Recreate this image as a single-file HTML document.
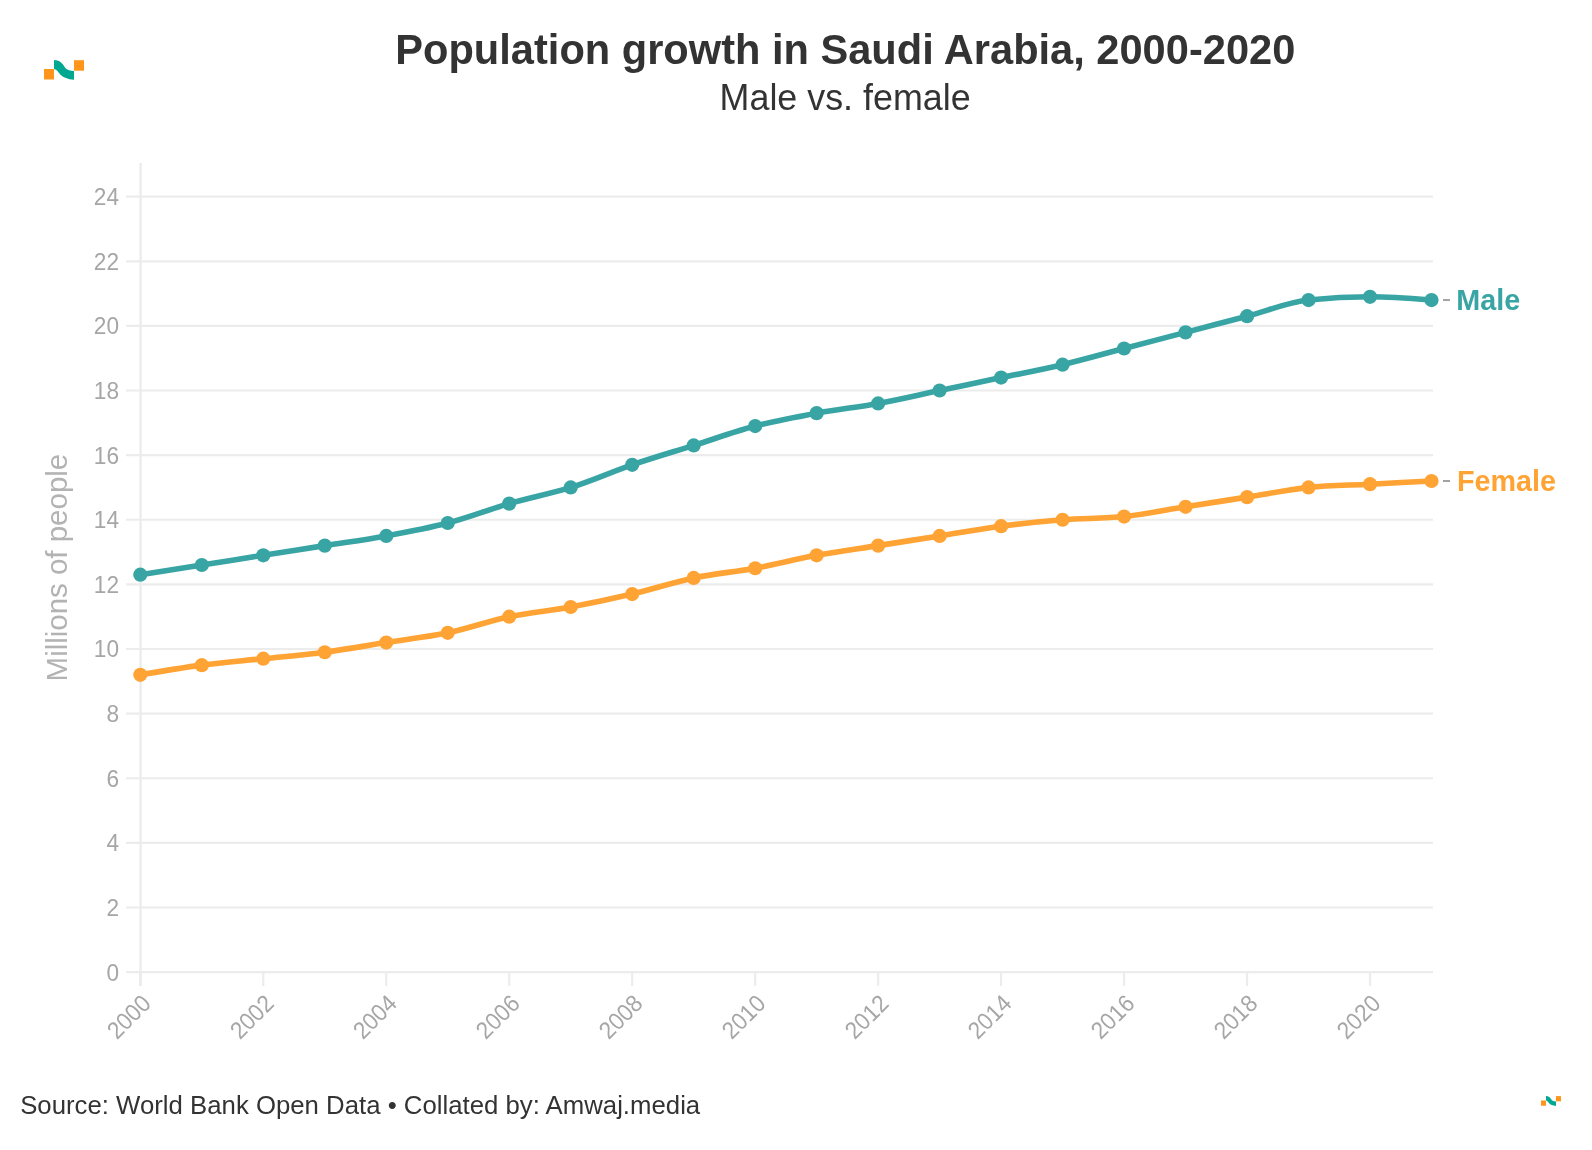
<!DOCTYPE html>
<html><head><meta charset="utf-8"><title>Population growth in Saudi Arabia, 2000-2020</title>
<style>
html,body{margin:0;padding:0;background:#fff;}
body{width:1592px;height:1150px;overflow:hidden;position:relative;font-family:"Liberation Sans",sans-serif;}
svg{position:absolute;left:0;top:0;will-change:transform;}
text{font-family:"Liberation Sans",sans-serif;}
</style></head><body>
<svg width="1592" height="1150" viewBox="0 0 1592 1150">

<g transform="translate(44,60) scale(1)"><rect x="0" y="9" width="10" height="10.5" fill="#ff961b"/><path d="M10,0 C15,0.3 18,2.5 20,6 C21.5,8.8 24,10.6 30,11 L30,19.8 C24,19.5 18,17.2 15,13 C13.5,10.6 12,9.6 10,9 Z" fill="#00a891"/><rect x="30" y="0.2" width="10" height="10.5" fill="#ff961b"/></g>
<g transform="translate(1541,1096) scale(0.5)"><rect x="0" y="9" width="10" height="10.5" fill="#ff961b"/><path d="M10,0 C15,0.3 18,2.5 20,6 C21.5,8.8 24,10.6 30,11 L30,19.8 C24,19.5 18,17.2 15,13 C13.5,10.6 12,9.6 10,9 Z" fill="#00a891"/><rect x="30" y="0.2" width="10" height="10.5" fill="#ff961b"/></g>
<text x="395.3" y="64" font-size="42" font-weight="bold" fill="#333" textLength="900" lengthAdjust="spacingAndGlyphs">Population growth in Saudi Arabia, 2000-2020</text>
<text x="719.6" y="110" font-size="37" fill="#333" textLength="251" lengthAdjust="spacingAndGlyphs">Male vs. female</text>
<line x1="126" y1="972.10" x2="1433" y2="972.10" stroke="#ececec" stroke-width="2.2"/>
<text x="119" y="980.50" font-size="23.5" fill="#a6a6a6" text-anchor="end" textLength="12.6" lengthAdjust="spacingAndGlyphs">0</text>
<line x1="126" y1="907.48" x2="1433" y2="907.48" stroke="#ececec" stroke-width="2.2"/>
<text x="119" y="915.88" font-size="23.5" fill="#a6a6a6" text-anchor="end" textLength="12.6" lengthAdjust="spacingAndGlyphs">2</text>
<line x1="126" y1="842.86" x2="1433" y2="842.86" stroke="#ececec" stroke-width="2.2"/>
<text x="119" y="851.26" font-size="23.5" fill="#a6a6a6" text-anchor="end" textLength="12.6" lengthAdjust="spacingAndGlyphs">4</text>
<line x1="126" y1="778.24" x2="1433" y2="778.24" stroke="#ececec" stroke-width="2.2"/>
<text x="119" y="786.64" font-size="23.5" fill="#a6a6a6" text-anchor="end" textLength="12.6" lengthAdjust="spacingAndGlyphs">6</text>
<line x1="126" y1="713.62" x2="1433" y2="713.62" stroke="#ececec" stroke-width="2.2"/>
<text x="119" y="722.02" font-size="23.5" fill="#a6a6a6" text-anchor="end" textLength="12.6" lengthAdjust="spacingAndGlyphs">8</text>
<line x1="126" y1="649.00" x2="1433" y2="649.00" stroke="#ececec" stroke-width="2.2"/>
<text x="119" y="657.40" font-size="23.5" fill="#a6a6a6" text-anchor="end" textLength="25.2" lengthAdjust="spacingAndGlyphs">10</text>
<line x1="126" y1="584.38" x2="1433" y2="584.38" stroke="#ececec" stroke-width="2.2"/>
<text x="119" y="592.78" font-size="23.5" fill="#a6a6a6" text-anchor="end" textLength="25.2" lengthAdjust="spacingAndGlyphs">12</text>
<line x1="126" y1="519.76" x2="1433" y2="519.76" stroke="#ececec" stroke-width="2.2"/>
<text x="119" y="528.16" font-size="23.5" fill="#a6a6a6" text-anchor="end" textLength="25.2" lengthAdjust="spacingAndGlyphs">14</text>
<line x1="126" y1="455.14" x2="1433" y2="455.14" stroke="#ececec" stroke-width="2.2"/>
<text x="119" y="463.54" font-size="23.5" fill="#a6a6a6" text-anchor="end" textLength="25.2" lengthAdjust="spacingAndGlyphs">16</text>
<line x1="126" y1="390.52" x2="1433" y2="390.52" stroke="#ececec" stroke-width="2.2"/>
<text x="119" y="398.92" font-size="23.5" fill="#a6a6a6" text-anchor="end" textLength="25.2" lengthAdjust="spacingAndGlyphs">18</text>
<line x1="126" y1="325.90" x2="1433" y2="325.90" stroke="#ececec" stroke-width="2.2"/>
<text x="119" y="334.30" font-size="23.5" fill="#a6a6a6" text-anchor="end" textLength="25.2" lengthAdjust="spacingAndGlyphs">20</text>
<line x1="126" y1="261.28" x2="1433" y2="261.28" stroke="#ececec" stroke-width="2.2"/>
<text x="119" y="269.68" font-size="23.5" fill="#a6a6a6" text-anchor="end" textLength="25.2" lengthAdjust="spacingAndGlyphs">22</text>
<line x1="126" y1="196.66" x2="1433" y2="196.66" stroke="#ececec" stroke-width="2.2"/>
<text x="119" y="205.06" font-size="23.5" fill="#a6a6a6" text-anchor="end" textLength="25.2" lengthAdjust="spacingAndGlyphs">24</text>
<line x1="140.6" y1="163" x2="140.6" y2="986" stroke="#ececec" stroke-width="2.4"/>
<line x1="140.30" y1="972" x2="140.30" y2="986" stroke="#ececec" stroke-width="2.2"/>
<text transform="translate(152.30,1005) rotate(-45)" font-size="24" fill="#a6a6a6" text-anchor="end" textLength="50" lengthAdjust="spacingAndGlyphs">2000</text>
<line x1="263.27" y1="972" x2="263.27" y2="986" stroke="#ececec" stroke-width="2.2"/>
<text transform="translate(275.27,1005) rotate(-45)" font-size="24" fill="#a6a6a6" text-anchor="end" textLength="50" lengthAdjust="spacingAndGlyphs">2002</text>
<line x1="386.24" y1="972" x2="386.24" y2="986" stroke="#ececec" stroke-width="2.2"/>
<text transform="translate(398.24,1005) rotate(-45)" font-size="24" fill="#a6a6a6" text-anchor="end" textLength="50" lengthAdjust="spacingAndGlyphs">2004</text>
<line x1="509.22" y1="972" x2="509.22" y2="986" stroke="#ececec" stroke-width="2.2"/>
<text transform="translate(521.22,1005) rotate(-45)" font-size="24" fill="#a6a6a6" text-anchor="end" textLength="50" lengthAdjust="spacingAndGlyphs">2006</text>
<line x1="632.19" y1="972" x2="632.19" y2="986" stroke="#ececec" stroke-width="2.2"/>
<text transform="translate(644.19,1005) rotate(-45)" font-size="24" fill="#a6a6a6" text-anchor="end" textLength="50" lengthAdjust="spacingAndGlyphs">2008</text>
<line x1="755.16" y1="972" x2="755.16" y2="986" stroke="#ececec" stroke-width="2.2"/>
<text transform="translate(767.16,1005) rotate(-45)" font-size="24" fill="#a6a6a6" text-anchor="end" textLength="50" lengthAdjust="spacingAndGlyphs">2010</text>
<line x1="878.13" y1="972" x2="878.13" y2="986" stroke="#ececec" stroke-width="2.2"/>
<text transform="translate(890.13,1005) rotate(-45)" font-size="24" fill="#a6a6a6" text-anchor="end" textLength="50" lengthAdjust="spacingAndGlyphs">2012</text>
<line x1="1001.10" y1="972" x2="1001.10" y2="986" stroke="#ececec" stroke-width="2.2"/>
<text transform="translate(1013.10,1005) rotate(-45)" font-size="24" fill="#a6a6a6" text-anchor="end" textLength="50" lengthAdjust="spacingAndGlyphs">2014</text>
<line x1="1124.08" y1="972" x2="1124.08" y2="986" stroke="#ececec" stroke-width="2.2"/>
<text transform="translate(1136.08,1005) rotate(-45)" font-size="24" fill="#a6a6a6" text-anchor="end" textLength="50" lengthAdjust="spacingAndGlyphs">2016</text>
<line x1="1247.05" y1="972" x2="1247.05" y2="986" stroke="#ececec" stroke-width="2.2"/>
<text transform="translate(1259.05,1005) rotate(-45)" font-size="24" fill="#a6a6a6" text-anchor="end" textLength="50" lengthAdjust="spacingAndGlyphs">2018</text>
<line x1="1370.02" y1="972" x2="1370.02" y2="986" stroke="#ececec" stroke-width="2.2"/>
<text transform="translate(1382.02,1005) rotate(-45)" font-size="24" fill="#a6a6a6" text-anchor="end" textLength="50" lengthAdjust="spacingAndGlyphs">2020</text>
<text transform="translate(67,681.4) rotate(-90)" font-size="29" fill="#b3b3b3" textLength="227.6" lengthAdjust="spacingAndGlyphs">Millions of people</text>
<path d="M140.30,674.85C160.80,671.35,181.29,667.85,201.79,665.15C222.28,662.46,242.78,660.85,263.27,658.69C283.77,656.54,304.26,654.92,324.76,652.23C345.25,649.54,365.75,645.77,386.24,642.54C406.74,639.31,427.23,637.15,447.73,632.85C468.23,628.54,488.72,621.00,509.22,616.69C529.71,612.38,550.21,610.77,570.70,607.00C591.20,603.23,611.69,598.92,632.19,594.07C652.68,589.23,673.18,582.23,693.67,577.92C714.17,573.61,734.66,571.99,755.16,568.23C775.66,564.46,796.15,559.07,816.65,555.30C837.14,551.53,857.64,548.84,878.13,545.61C898.63,542.38,919.12,539.15,939.62,535.91C960.11,532.68,980.61,528.91,1001.10,526.22C1021.60,523.53,1042.09,521.38,1062.59,519.76C1083.09,518.14,1103.58,518.68,1124.08,516.53C1144.57,514.38,1165.07,510.07,1185.56,506.84C1206.06,503.60,1226.55,500.37,1247.05,497.14C1267.54,493.91,1288.04,489.60,1308.53,487.45C1329.03,485.30,1349.52,485.30,1370.02,484.22C1390.52,483.14,1411.01,482.06,1431.51,480.99" fill="none" stroke="#ffa334" stroke-width="5.6" stroke-linejoin="round" stroke-linecap="round"/>
<circle cx="140.30" cy="674.85" r="7.1" fill="#ffa334"/>
<circle cx="201.79" cy="665.15" r="7.1" fill="#ffa334"/>
<circle cx="263.27" cy="658.69" r="7.1" fill="#ffa334"/>
<circle cx="324.76" cy="652.23" r="7.1" fill="#ffa334"/>
<circle cx="386.24" cy="642.54" r="7.1" fill="#ffa334"/>
<circle cx="447.73" cy="632.85" r="7.1" fill="#ffa334"/>
<circle cx="509.22" cy="616.69" r="7.1" fill="#ffa334"/>
<circle cx="570.70" cy="607.00" r="7.1" fill="#ffa334"/>
<circle cx="632.19" cy="594.07" r="7.1" fill="#ffa334"/>
<circle cx="693.67" cy="577.92" r="7.1" fill="#ffa334"/>
<circle cx="755.16" cy="568.23" r="7.1" fill="#ffa334"/>
<circle cx="816.65" cy="555.30" r="7.1" fill="#ffa334"/>
<circle cx="878.13" cy="545.61" r="7.1" fill="#ffa334"/>
<circle cx="939.62" cy="535.91" r="7.1" fill="#ffa334"/>
<circle cx="1001.10" cy="526.22" r="7.1" fill="#ffa334"/>
<circle cx="1062.59" cy="519.76" r="7.1" fill="#ffa334"/>
<circle cx="1124.08" cy="516.53" r="7.1" fill="#ffa334"/>
<circle cx="1185.56" cy="506.84" r="7.1" fill="#ffa334"/>
<circle cx="1247.05" cy="497.14" r="7.1" fill="#ffa334"/>
<circle cx="1308.53" cy="487.45" r="7.1" fill="#ffa334"/>
<circle cx="1370.02" cy="484.22" r="7.1" fill="#ffa334"/>
<circle cx="1431.51" cy="480.99" r="7.1" fill="#ffa334"/>
<path d="M140.30,574.69C160.80,571.46,181.29,568.23,201.79,564.99C222.28,561.76,242.78,558.53,263.27,555.30C283.77,552.07,304.26,548.84,324.76,545.61C345.25,542.38,365.75,539.68,386.24,535.91C406.74,532.15,427.23,528.38,447.73,522.99C468.23,517.61,488.72,509.53,509.22,503.61C529.71,497.68,550.21,493.91,570.70,487.45C591.20,480.99,611.69,471.83,632.19,464.83C652.68,457.83,673.18,451.91,693.67,445.45C714.17,438.99,734.66,431.45,755.16,426.06C775.66,420.68,796.15,416.91,816.65,413.14C837.14,409.37,857.64,407.21,878.13,403.44C898.63,399.67,919.12,394.83,939.62,390.52C960.11,386.21,980.61,381.90,1001.10,377.60C1021.60,373.29,1042.09,369.52,1062.59,364.67C1083.09,359.83,1103.58,353.90,1124.08,348.52C1144.57,343.13,1165.07,337.75,1185.56,332.36C1206.06,326.98,1226.55,321.59,1247.05,316.21C1267.54,310.82,1288.04,302.21,1308.53,300.05C1329.03,297.90,1349.52,296.82,1370.02,296.82C1390.52,296.82,1411.01,298.44,1431.51,300.05" fill="none" stroke="#38a5a4" stroke-width="5.6" stroke-linejoin="round" stroke-linecap="round"/>
<circle cx="140.30" cy="574.69" r="7.1" fill="#38a5a4"/>
<circle cx="201.79" cy="564.99" r="7.1" fill="#38a5a4"/>
<circle cx="263.27" cy="555.30" r="7.1" fill="#38a5a4"/>
<circle cx="324.76" cy="545.61" r="7.1" fill="#38a5a4"/>
<circle cx="386.24" cy="535.91" r="7.1" fill="#38a5a4"/>
<circle cx="447.73" cy="522.99" r="7.1" fill="#38a5a4"/>
<circle cx="509.22" cy="503.61" r="7.1" fill="#38a5a4"/>
<circle cx="570.70" cy="487.45" r="7.1" fill="#38a5a4"/>
<circle cx="632.19" cy="464.83" r="7.1" fill="#38a5a4"/>
<circle cx="693.67" cy="445.45" r="7.1" fill="#38a5a4"/>
<circle cx="755.16" cy="426.06" r="7.1" fill="#38a5a4"/>
<circle cx="816.65" cy="413.14" r="7.1" fill="#38a5a4"/>
<circle cx="878.13" cy="403.44" r="7.1" fill="#38a5a4"/>
<circle cx="939.62" cy="390.52" r="7.1" fill="#38a5a4"/>
<circle cx="1001.10" cy="377.60" r="7.1" fill="#38a5a4"/>
<circle cx="1062.59" cy="364.67" r="7.1" fill="#38a5a4"/>
<circle cx="1124.08" cy="348.52" r="7.1" fill="#38a5a4"/>
<circle cx="1185.56" cy="332.36" r="7.1" fill="#38a5a4"/>
<circle cx="1247.05" cy="316.21" r="7.1" fill="#38a5a4"/>
<circle cx="1308.53" cy="300.05" r="7.1" fill="#38a5a4"/>
<circle cx="1370.02" cy="296.82" r="7.1" fill="#38a5a4"/>
<circle cx="1431.51" cy="300.05" r="7.1" fill="#38a5a4"/>
<line x1="1443" y1="300.05" x2="1450" y2="300.05" stroke="#a3a3a3" stroke-width="2"/>
<line x1="1443" y1="480.99" x2="1450" y2="480.99" stroke="#a3a3a3" stroke-width="2"/>
<text x="1456.3" y="310" font-size="29" font-weight="bold" fill="#38a5a4" textLength="64" lengthAdjust="spacingAndGlyphs">Male</text>
<text x="1457" y="491" font-size="29" font-weight="bold" fill="#ffa334" textLength="99" lengthAdjust="spacingAndGlyphs">Female</text>
<text x="20.2" y="1114" font-size="26" fill="#333" textLength="680" lengthAdjust="spacingAndGlyphs">Source: World Bank Open Data • Collated by: Amwaj.media</text>
</svg></body></html>
